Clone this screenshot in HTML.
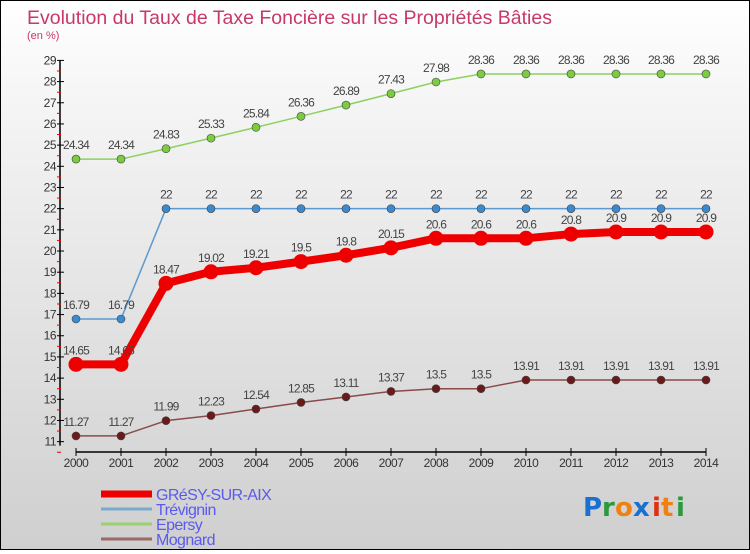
<!DOCTYPE html>
<html><head><meta charset="utf-8"><style>
html,body{margin:0;padding:0}
body{width:750px;height:550px;overflow:hidden;font-family:"Liberation Sans",sans-serif}
#wrap{position:relative;width:748px;height:548px;border:1px solid #000;background:linear-gradient(#ffffff,#f4f4f4 20%,#cfcfcf)}
</style></head><body>
<div id="wrap">
<svg id="chart" width="748" height="548" xmlns="http://www.w3.org/2000/svg">
<text x="26" y="23" font-size="19.5" fill="#c8386a">Evolution du Taux de Taxe Foncière sur les Propriétés Bâties</text>
<text x="26" y="38" font-size="11" fill="#c8386a">(en %)</text>
<g id="axes"></g>
<g id="series"></g>
<g id="legend"></g>
<g font-size="26" font-family="'DejaVu Sans',sans-serif" font-weight="bold">
<text x="582" y="515" fill="#1a6fd0">P</text><text x="601" y="515" fill="#2a9a3a">r</text><text x="614" y="515" fill="#f08010">o</text><text x="632" y="515" fill="#1a6fd0">x</text><text x="651" y="515" fill="#e03010">i</text><text x="660" y="515" fill="#f08010">t</text><text x="675" y="515" fill="#2a9a3a">i</text>
</g>
</svg>
</div>
<script>
const years=[2000,2001,2002,2003,2004,2005,2006,2007,2008,2009,2010,2011,2012,2013,2014];
const yTicks=[11,12,13,14,15,16,17,18,19,20,21,22,23,24,25,26,27,28,29];
const gresy=[14.65,14.65,18.47,19.02,19.21,19.5,19.8,20.15,20.6,20.6,20.6,20.8,20.9,20.9,20.9];
const trevignin=[16.79,16.79,22,22,22,22,22,22,22,22,22,22,22,22,22];
const epersy=[24.34,24.34,24.83,25.33,25.84,26.36,26.89,27.43,27.98,28.36,28.36,28.36,28.36,28.36,28.36];
const mognard=[11.27,11.27,11.99,12.23,12.54,12.85,13.11,13.37,13.5,13.5,13.91,13.91,13.91,13.91,13.91];
const seriesNames=["GRéSY-SUR-AIX","Trévignin","Epersy","Mognard"];
const NS="http://www.w3.org/2000/svg";
const X=i=>75+i*45;
const Y=v=>59.4+(29-v)*21.18;
function mk(tag,attrs,parent){const e=document.createElementNS(NS,tag);for(const k in attrs)e.setAttribute(k,attrs[k]);parent.appendChild(e);return e;}
const axes=document.getElementById('axes');
const ax=mk('line',{x1:59,y1:Y(29),x2:59,y2:Y(11)+4,stroke:'#000','stroke-width':1.5},axes);


yTicks.forEach(t=>{
  mk('line',{x1:56,x2:63,y1:Y(t),y2:Y(t),stroke:'#000'},axes);
  mk('line',{x1:56,x2:60,y1:Y(t)+10.6,y2:Y(t)+10.6,stroke:'#e00'},axes);
  const tx=mk('text',{x:55,y:Y(t)+4,'font-size':12,'text-anchor':'end',fill:'#333','letter-spacing':'-0.5'},axes);
  tx.textContent=t;
  
  
});
const xa=mk('line',{x1:X(0),y1:451,x2:X(14),y2:451,stroke:'#000','stroke-width':1.5},axes);


years.forEach((yr,i)=>{
  mk('line',{x1:X(i),x2:X(i),y1:447,y2:455,stroke:'#000'},axes);
  const tx=mk('text',{x:X(i),y:466,'font-size':12,'text-anchor':'middle',fill:'#333','letter-spacing':'-0.5'},axes);
  tx.textContent=yr;
  
  
});
const sg=document.getElementById('series');
function draw(vals,name,color,lw,r,fill){
  const g=mk('g',{},sg);
  
  
  mk('polyline',{points:vals.map((v,i)=>X(i)+','+Y(v)).join(' '),fill:'none',stroke:color,'stroke-width':lw,'stroke-linejoin':'round'},g);
  vals.forEach((v,i)=>{
    const c=mk('circle',{cx:X(i),cy:Y(v),r:r,fill:fill,stroke:'#444','stroke-width':r>5?0:0.6},g);
    
    
    const t=mk('text',{x:X(i),y:Y(v)-10,'font-size':12,'text-anchor':'middle',fill:'#444','letter-spacing':'-0.8'},g);
    t.textContent=v;
    
    
  });
}
draw(mognard,'mognard','#8a4a4a',1.5,4,'#6a1a1a');
draw(epersy,'epersy','#8dd060',1.5,4,'#7ccc40');
draw(trevignin,'trevignin','#5a9ad0',1.5,4,'#3a8ad0');
draw(gresy,'gresy','#ee0000',8,7.5,'#ee0000');
const lg=document.getElementById('legend');
const lc=['#ee0000','#7aaad0','#9ad070','#9a6a6a'];const lw=[7,3,3,3];
seriesNames.forEach((n,i)=>{
  const y=493+i*15;
  mk('line',{x1:100,x2:151,y1:y,y2:y,stroke:lc[i],'stroke-width':lw[i]},lg);
  const t=mk('text',{x:155,y:y+6,'font-size':16,fill:'#5a5aee','letter-spacing':'-0.6'},lg);
  t.textContent=n;
  
  
});
</script>
</body></html>
